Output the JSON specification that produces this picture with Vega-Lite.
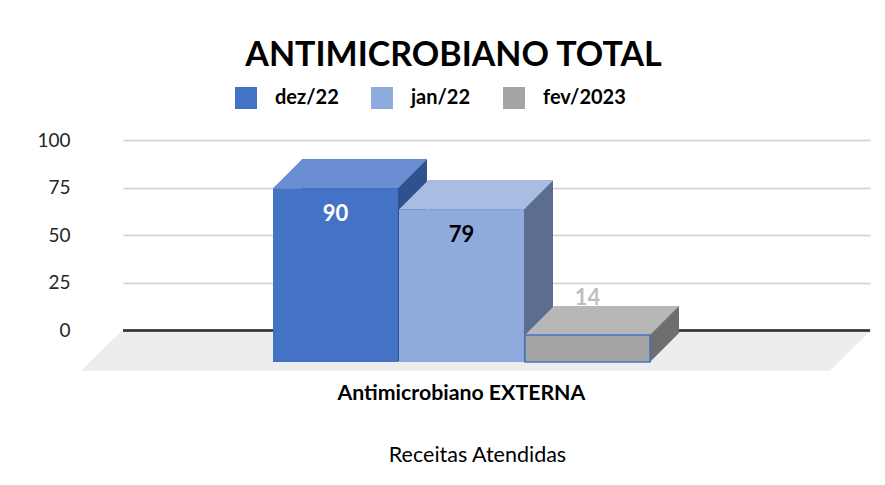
{
  "$schema": "https://vega.github.io/schema/vega-lite/v6.json",
  "autosize": "none",
  "width": 747,
  "height": 222,
  "padding": {"left": 123, "top": 140, "right": 15, "bottom": 123},
  "background": "white",
  "config": {"view": {"stroke": null}, "font": "Lato"},
  "title": {"text": "ANTIMICROBIANO TOTAL", "font": "Lato", "fontSize": 34, "fontWeight": "bold", "color": "#000000", "anchor": "middle", "dx": -43, "offset": 14},
  "data": {"values": [
    {"categoria": "Antimicrobiano EXTERNA", "periodo": "dez/22", "valor": 90},
    {"categoria": "Antimicrobiano EXTERNA", "periodo": "jan/22", "valor": 79},
    {"categoria": "Antimicrobiano EXTERNA", "periodo": "fev/2023", "valor": 14}
  ]},
  "resolve": {"scale": {"x": "independent", "y": "independent"}},
  "layer": [
    {
      "layer": [
        {
          "mark": {"type": "point", "shape": "M -339 0 L 409 0 L 368.5 40 L -380 40 Z", "size": 4, "filled": true, "color": "#EDEDED", "opacity": 1, "strokeWidth": 0},
          "encoding": {
            "x": {"field": "categoria", "type": "nominal", "scale": {"type": "band", "paddingInner": 0, "paddingOuter": 0.4907, "align": 0.405},
              "axis": {"labelFontSize": 21.3, "labelFontWeight": "bold", "labelColor": "#000000", "labelPadding": 20, "labelAngle": 0, "labelLimit": 0, "domain": false, "ticks": false,
                "title": "Receitas Atendidas", "titleFontSize": 21.5, "titleFontWeight": "normal", "titleColor": "#000000", "titleX": 354, "titleY": 99, "titleBaseline": "alphabetic", "titleAlign": "center"}},
            "y": {"datum": 0, "type": "quantitative", "scale": {"domain": [-16.54, 100], "nice": false, "zero": false},
              "axis": {"values": [0, 25, 50, 75, 100], "grid": true, "gridColor": "#D0D0D0", "gridWidth": 1.4, "domain": false, "ticks": false, "labelPadding": 53, "labelFontSize": 19, "labelColor": "#262626", "title": null}}
          }
        },
        {
          "mark": {"type": "rule", "color": "#363636", "strokeWidth": 2},
          "encoding": {"y": {"datum": 0, "type": "quantitative"}}
        }
      ]
    },
    {
      "encoding": {
        "x": {"field": "periodo", "type": "nominal", "sort": ["dez/22", "jan/22", "fev/2023"], "scale": {"paddingInner": 0.008, "paddingOuter": 0, "range": [150, 527]}, "axis": null}
      },
      "layer": [
        {
          "mark": {"type": "bar", "xOffset": 29, "x2Offset": 29, "yOffset": -29, "y2Offset": -29},
          "encoding": {
            "y": {"field": "valor", "type": "quantitative", "scale": {"domain": [0, 115], "nice": false}, "axis": null},
            "color": {"condition": [{"test": "datum.periodo === 'dez/22'", "value": "#2F528F"}, {"test": "datum.periodo === 'jan/22'", "value": "#5B6E8F"}], "value": "#6E6E6E"}
          }
        },
        {
          "mark": {"type": "point", "shape": "M 62.5 0 L 91.5 -29 L 62.5 -29 Z", "size": 4, "filled": true, "opacity": 1, "strokeWidth": 0},
          "encoding": {
            "y": {"datum": 0, "type": "quantitative"},
            "color": {"condition": [{"test": "datum.periodo === 'dez/22'", "value": "#2F528F"}, {"test": "datum.periodo === 'jan/22'", "value": "#5B6E8F"}], "value": "#6E6E6E"}
          }
        },
        {
          "mark": {"type": "point", "shape": "M -62.5 0 L 62.5 0 L 91.5 -29 L -33.5 -29 Z", "size": 4, "filled": true, "opacity": 1, "strokeWidth": 0},
          "encoding": {
            "y": {"field": "valor", "type": "quantitative"},
            "color": {"condition": [{"test": "datum.periodo === 'dez/22'", "value": "#6A8ED1"}, {"test": "datum.periodo === 'jan/22'", "value": "#A9BCE3"}], "value": "#B7B7B7"}
          }
        },
        {
          "mark": {"type": "bar", "strokeWidth": 1.5},
          "encoding": {
            "y": {"field": "valor", "type": "quantitative"},
            "color": {"field": "periodo", "type": "nominal", "sort": ["dez/22", "jan/22", "fev/2023"],
              "scale": {"domain": ["dez/22", "jan/22", "fev/2023"], "range": ["#4472C4", "#8FAADC", "#A5A5A5"]},
              "legend": {"orient": "none", "legendX": 112, "legendY": -53, "direction": "horizontal", "title": null, "symbolType": "square", "symbolSize": 484, "symbolStrokeWidth": 0, "symbolOpacity": 1,
                "labelFontSize": 20, "labelFontWeight": "bold", "labelColor": "#000000", "labelOffset": 18, "columnPadding": 32, "padding": 0}},
            "stroke": {"condition": {"test": "datum.periodo === 'fev/2023'", "value": "#4472C4"}, "value": null}
          }
        },
        {
          "transform": [{"filter": "datum.valor >= 50"}],
          "mark": {"type": "text", "dy": 26, "fontSize": 22, "fontWeight": "bold"},
          "encoding": {
            "y": {"field": "valor", "type": "quantitative"},
            "text": {"field": "valor", "type": "quantitative"},
            "color": {"condition": {"test": "datum.periodo === 'dez/22'", "value": "#FFFFFF"}, "value": "#000000"}
          }
        },
        {
          "transform": [{"filter": "datum.valor < 50"}],
          "mark": {"type": "text", "dy": -37, "fontSize": 22, "fontWeight": "bold", "color": "#BFBFBF"},
          "encoding": {
            "y": {"field": "valor", "type": "quantitative"},
            "text": {"field": "valor", "type": "quantitative"}
          }
        }
      ]
    }
  ]
}
